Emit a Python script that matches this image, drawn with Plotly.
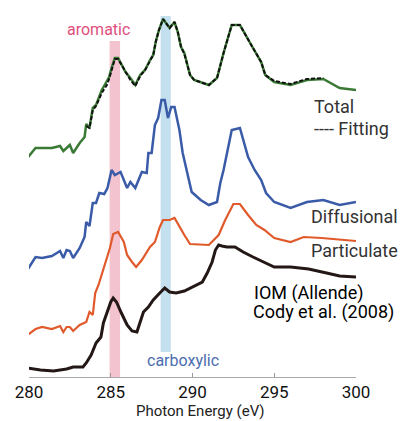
import plotly.graph_objects as go

# Photon energy (eV) and intensity (arbitrary, stacked offsets)
total_e = [279.9, 280.4, 281.4, 281.9, 282.1, 282.5, 282.7, 283.1, 283.4, 283.5, 283.7, 283.9, 284.1, 284.45,
           284.8, 284.9, 285.05, 285.25, 285.45, 285.7, 285.9, 286.2, 286.5, 286.8, 287.1, 287.4, 287.6, 287.75,
           287.95, 288.2, 288.4, 288.6, 288.9, 289.1, 289.3, 289.5, 289.85, 290.1, 291.0, 291.5, 291.9, 292.4,
           292.9, 293.3, 293.7, 294.2, 294.45, 295.0, 296.0, 297.0, 298.0, 299.0, 300.0]
total_y = [219, 229, 229, 231, 226, 232, 224, 234, 240, 253, 249, 269, 272, 287,
           297, 300, 309, 319, 319, 312, 305, 299, 292, 302, 307, 317, 322, 335,
           347, 358, 354, 349, 355, 345, 330, 324, 302, 297, 292, 299, 324, 352,
           352, 340, 329, 315, 302, 295, 292, 297, 298, 289, 287]

fit_e = [283.5, 283.7, 283.9, 284.1, 284.45, 284.8, 284.95, 285.1, 285.25, 285.45, 285.7, 285.9, 286.2, 286.5,
         286.8, 287.1, 287.4, 287.6, 287.75, 287.95, 288.2, 288.4, 288.6, 288.9, 289.1, 289.3, 289.5, 289.85,
         290.1, 291.0, 291.5, 291.9, 292.4, 292.9, 293.3, 293.7, 294.2, 294.45, 295.0, 296.0, 297.0, 298.0]
fit_y = [251, 249, 267, 271, 284, 293, 301, 311, 318, 318, 311, 304, 297, 291,
         301, 307, 317, 322, 335, 347, 358, 354, 349, 355, 345, 330, 323, 302,
         297, 292, 299, 324, 352, 352, 340, 329, 315, 302, 296, 293, 298, 299]

diff_e = [279.9, 280.4, 280.8, 281.4, 281.9, 282.1, 282.3, 282.5, 282.7, 283.1, 283.4, 283.5, 283.7, 283.9,
          284.1, 284.3, 284.6, 284.8, 285.05, 285.25, 285.6, 286.0, 286.2, 286.5, 286.9, 287.2, 287.3, 287.5,
          287.7, 287.9, 288.1, 288.3, 288.5, 288.7, 288.9, 289.2, 289.4, 289.95, 290.5, 291.0, 291.5, 291.7,
          291.9, 292.4, 292.9, 293.4, 293.8, 294.2, 294.5, 295.0, 296.0, 297.0, 298.0, 299.0, 300.0]
diff_y = [107, 120, 119, 121, 126, 119, 127, 126, 119, 129, 140, 155, 151, 174,
          174, 184, 183, 189, 207, 202, 205, 189, 195, 189, 205, 204, 224, 224,
          252, 259, 277, 277, 259, 270, 270, 247, 224, 185, 177, 172, 175, 194,
          207, 247, 249, 220, 207, 197, 184, 175, 169, 175, 177, 172, 175]

part_e = [279.9, 280.4, 280.8, 281.4, 281.9, 282.1, 282.3, 282.5, 282.7, 283.1, 283.5, 283.7, 283.9, 284.05,
          284.25, 284.55, 284.8, 284.95, 285.15, 285.45, 285.8, 286.0, 286.3, 286.55, 286.9, 287.4, 287.7, 288.0,
          288.2, 288.6, 288.9, 289.2, 289.5, 289.85, 291.0, 291.6, 292.0, 292.5, 292.9, 293.4, 293.9, 294.4,
          295.0, 296.0, 296.8, 297.9, 300.0]
part_y = [42, 48, 50, 48, 51, 45, 50, 50, 46, 52, 55, 65, 62, 84,
          92, 107, 120, 129, 143, 145, 135, 122, 115, 110, 117, 130, 135, 150,
          157, 157, 159, 150, 142, 133, 132, 142, 157, 173, 173, 162, 152, 147,
          139, 135, 140, 139, 136]

iom_e = [279.9, 280.7, 281.5, 282.3, 282.7, 283.3, 283.5, 283.8, 284.1, 284.4, 284.55, 284.8, 285.0, 285.15,
         285.35, 285.65, 286.0, 286.3, 286.6, 286.8, 287.0, 287.3, 287.6, 288.0, 288.3, 288.6, 289.0, 289.5,
         290.0, 290.6, 290.9, 291.2, 291.4, 291.6, 291.8, 292.1, 292.6, 293.1, 293.7, 294.3, 295.0, 296.0,
         297.1, 298.2, 299.0, 300.0]
iom_y = [9, 7, 6, 8, 10, 10, 14, 22, 34, 40, 54, 67, 75, 79,
         75, 64, 52, 46, 45, 55, 65, 70, 77, 84, 89, 85, 84, 86,
         90, 95, 104, 115, 127, 132, 131, 130, 130, 125, 120, 115, 110, 110,
         108, 104, 101, 100]

x_ticks = [280, 285, 290, 295, 300]
aromatic_band = [284.93, 285.57]
carboxylic_band = [288.05, 288.67]

fig = go.Figure()

fig.add_shape(type="rect", x0=aromatic_band[0], x1=aromatic_band[1], y0=0, y1=336,
              fillcolor="#f3c3cf", line_width=0, layer="below")
fig.add_shape(type="rect", x0=carboxylic_band[0], x1=carboxylic_band[1], y0=25, y1=361,
              fillcolor="#c4e0ee", line_width=0, layer="below")

fig.add_trace(go.Scatter(x=iom_e, y=iom_y, mode="lines", line=dict(color="#231815", width=3)))
fig.add_trace(go.Scatter(x=part_e, y=part_y, mode="lines", line=dict(color="#e05a2b", width=2.2)))
fig.add_trace(go.Scatter(x=diff_e, y=diff_y, mode="lines", line=dict(color="#3a5ba8", width=2.5)))
fig.add_trace(go.Scatter(x=total_e, y=total_y, mode="lines", line=dict(color="#3a7a35", width=2.5)))
fig.add_trace(go.Scatter(x=fit_e, y=fit_y, mode="lines",
                         line=dict(color="#111111", width=2, dash="4px,2px")))

lab_font = dict(family="Roboto", size=18, color="#333333")
blk_font = dict(family="Roboto", size=18, color="#000000")
anns = [
    dict(x=297.31, y=271, text="Total", font=lab_font),
    dict(x=297.31, y=249, text="---- Fitting", font=lab_font),
    dict(x=297.13, y=161, text="Diffusional", font=lab_font),
    dict(x=297.13, y=127, text="Particulate", font=lab_font),
    dict(x=293.64, y=84, text="IOM (Allende)", font=blk_font),
    dict(x=293.58, y=65, text="Cody et al. (2008)", font=blk_font),
]
for a in anns:
    fig.add_annotation(xref="x", yref="y", xanchor="left", yanchor="middle", showarrow=False, **a)

fig.add_annotation(x=284.22, y=348, xref="x", yref="y", text="aromatic", showarrow=False,
                   font=dict(family="Roboto", size=16, color="#e0507d"))
fig.add_annotation(x=289.42, y=17, xref="x", yref="y", text="carboxylic", showarrow=False,
                   font=dict(family="Roboto", size=16, color="#4a6db0"))
fig.add_annotation(x=290.46, y=-0.1167, xref="x", yref="paper", yanchor="bottom", text="Photon Energy (eV)",
                   showarrow=False, borderpad=0,
                   font=dict(family="Roboto", size=15, color="#222222"))

fig.update_layout(
    width=401, height=421, margin=dict(l=29, r=45, t=0, b=44),
    paper_bgcolor="white", plot_bgcolor="white", showlegend=False,
    xaxis=dict(range=[280, 300], tickvals=x_ticks, ticks="inside", ticklen=4, tickcolor="#999999",
               showline=True, linecolor="#aaaaaa", linewidth=1, showgrid=False, zeroline=False,
               tickfont=dict(family="Roboto", size=17, color="#111111")),
    yaxis=dict(range=[0, 377], visible=False),
)

fig.write_html("out.html")
